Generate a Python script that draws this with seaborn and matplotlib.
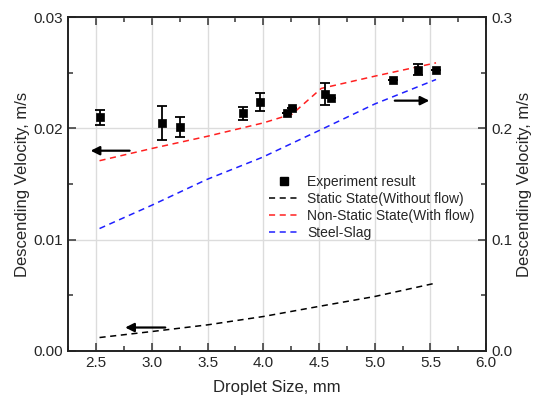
import numpy as np
import pandas as pd
import matplotlib
matplotlib.use("Agg")
import matplotlib.pyplot as plt
from matplotlib.lines import Line2D
import seaborn as sns

# Datos experimentales (eje izquierdo)
exp_size = [2.53, 3.09, 3.25, 3.82, 3.97, 4.21, 4.26, 4.55, 4.61, 5.16, 5.39, 5.55]
exp_vel = [0.0210, 0.0205, 0.0201, 0.02135, 0.0224, 0.0214, 0.0218, 0.0231, 0.0227, 0.02435, 0.0253, 0.0253]
exp_err = [0.0007, 0.0015, 0.0009, 0.0006, 0.0008, 0.0, 0.0, 0.0010, 0.0, 0.0, 0.0005, 0.0]

# Estado estatico (eje izquierdo)
static_size = [2.53, 3.0, 3.5, 4.0, 4.5, 5.0, 5.55]
static_vel = [0.0012, 0.00174, 0.00234, 0.00309, 0.0040, 0.00489, 0.0061]

# Estado no estatico (eje izquierdo)
flow_size = [2.53, 3.0, 3.5, 4.0, 4.26, 4.52, 5.0, 5.55]
flow_vel = [0.0171, 0.0182, 0.0193, 0.0205, 0.0213, 0.0236, 0.0247, 0.0259]

# Acero-escoria (eje derecho)
slag_size = [2.53, 3.0, 3.49, 3.99, 4.54, 5.0, 5.55]
slag_vel = [0.110, 0.131, 0.154, 0.174, 0.200, 0.222, 0.244]

# Flechas: (inicio x, fin x, y) en eje izquierdo
arrows = [(2.80, 2.45, 0.0180), (3.12, 2.76, 0.0021), (5.18, 5.49, 0.0225)]

sns.set_style("ticks")
plt.rcParams['font.family'] = ['Liberation Sans', 'DejaVu Sans']

fig = plt.figure(figsize=(5.36, 4.01), dpi=100)
ax = fig.add_axes([0.1275, 0.125, 0.7795, 0.832])
ax2 = ax.twinx()

df_exp = pd.DataFrame({'size': exp_size, 'vel': exp_vel, 'err': exp_err})
ax.errorbar(df_exp['size'], df_exp['vel'], yerr=df_exp['err'], fmt='none',
            ecolor='black', elinewidth=1.3, capsize=3.5, capthick=1.3, zorder=4)
sns.scatterplot(data=df_exp, x='size', y='vel', ax=ax, marker='s', s=40,
                color='black', edgecolor='black', zorder=5, legend=False)

dash = (0, (4, 3))
sns.lineplot(x=static_size, y=static_vel, ax=ax, color='black', linestyle=dash,
             linewidth=1.1, legend=False)
sns.lineplot(x=flow_size, y=flow_vel, ax=ax, color='#ff2020', linestyle=dash,
             linewidth=1.1, legend=False)
sns.lineplot(x=slag_size, y=slag_vel, ax=ax2, color='#2020ff', linestyle=dash,
             linewidth=1.1, legend=False)

for x0, x1, y in arrows:
    ax.annotate('', xy=(x1, y), xytext=(x0, y),
                arrowprops=dict(arrowstyle='-|>', color='black', lw=1.6,
                                mutation_scale=13, shrinkA=0, shrinkB=0))

ax.set_xlim(2.25, 6.0)
ax.set_ylim(0, 0.03)
ax2.set_ylim(0, 0.3)
ax.set_xticks([2.5, 3.0, 3.5, 4.0, 4.5, 5.0, 5.5, 6.0])
ax.set_xticks(np.arange(2.25, 6.01, 0.25), minor=True)
ax.set_yticks([0.0, 0.01, 0.02, 0.03])
ax.set_yticks([0.005, 0.015, 0.025], minor=True)
ax2.set_yticks([0.0, 0.1, 0.2, 0.3])
ax2.set_yticks([0.05, 0.15, 0.25], minor=True)
ax.set_xticklabels(['2.5', '3.0', '3.5', '4.0', '4.5', '5.0', '5.5', '6.0'])
ax.set_yticklabels(['0.00', '0.01', '0.02', '0.03'])
ax2.set_yticklabels(['0.0', '0.1', '0.2', '0.3'])

ax.grid(True, which='major', color='#dcdcdc', linewidth=1.0)
ax.set_axisbelow(True)

for a in (ax, ax2):
    a.tick_params(which='both', direction='in', labelsize=11, width=1.1,
                  color='#333333', pad=4)
    a.tick_params(which='major', length=6)
    a.tick_params(which='minor', length=3.5)
    for sp in a.spines.values():
        sp.set_color('#222222')
        sp.set_linewidth(1.2)
ax.tick_params(which='both', top=True)

ax.set_xlabel('Droplet Size, mm', fontsize=12, labelpad=7)
ax.set_ylabel('Descending Velocity, m/s', fontsize=12, labelpad=2)
ax2.set_ylabel('Descending Velocity, m/s', fontsize=12, labelpad=3)

handles = [
    Line2D([], [], color='black', marker='s', markersize=6, linestyle='none'),
    Line2D([], [], color='black', linestyle=dash, linewidth=1.1),
    Line2D([], [], color='#ff2020', linestyle=dash, linewidth=1.1),
    Line2D([], [], color='#2020ff', linestyle=dash, linewidth=1.1),
]
labels = ['Experiment result', 'Static State(Without flow)',
          'Non-Static State(With flow)', 'Steel-Slag']
ax.legend(handles, labels, loc='upper left', bbox_to_anchor=(0.468, 0.545),
          frameon=False, fontsize=10, handlelength=2.1, handletextpad=0.6,
          labelspacing=0.22, borderaxespad=0)

fig.savefig('out.png', dpi=100)
